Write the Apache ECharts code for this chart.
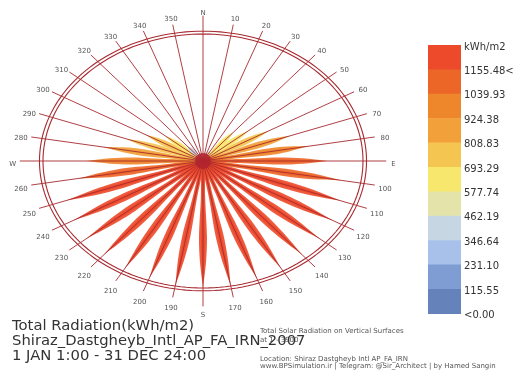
<!DOCTYPE html>
<html>
<head>
<meta charset="utf-8">
<script src="https://cdn.jsdelivr.net/npm/echarts@6/dist/echarts.min.js"></script>
<style>
  html, body { margin: 0; padding: 0; background: #ffffff; }
  #chart { width: 517px; height: 372px; }
</style>
</head>
<body>
<div id="chart"></div>
<script>
// Azimuth of each vertical surface (degrees from north, clockwise)
const directions = [0, 10, 20, 30, 40, 50, 60, 70, 80, 90, 100, 110, 120, 130, 140, 150, 160, 170,
                    180, 190, 200, 210, 220, 230, 240, 250, 260, 270, 280, 290, 300, 310, 320, 330, 340, 350];
// Annual total radiation on each vertical surface (kWh/m2)
const radiation = [320, 325, 340, 400, 600, 670, 770, 870, 960, 1060, 1150, 1185, 1210, 1225, 1235, 1245, 1255, 1265,
                   1271, 1265, 1255, 1245, 1235, 1225, 1210, 1180, 1070, 1010, 920, 800, 710, 610, 460, 360, 330, 320];
// Compass labels around the rose
const directionLabels = ['N', '10', '20', '30', '40', '50', '60', '70', '80', 'E', '100', '110', '120', '130', '140', '150', '160', '170',
                         'S', '190', '200', '210', '220', '230', '240', '250', '260', 'W', '280', '290', '300', '310', '320', '330', '340', '350'];
// Legend bins (top to bottom) and their tick labels
const legendColors = ['#ec4a2b', '#ec6628', '#ee862b', '#f2a13a', '#f5c552', '#f7e76d', '#e4e4aa', '#c6d6e2', '#a7c1ea', '#809dd3', '#6682ba'];
const binLowerEdges = [1155.48, 1039.93, 924.38, 808.83, 693.29, 577.74, 462.19, 346.64, 231.10, 115.55, -Infinity];
const legendTicks = ['kWh/m2', '1155.48<', '1039.93', '924.38', '808.83', '693.29', '577.74', '462.19', '346.64', '231.10', '115.55', '<0.00'];
// Title block
const titleLines = ['Total Radiation(kWh/m2)', 'Shiraz_Dastgheyb_Intl_AP_FA_IRN_2007', '1 JAN 1:00 - 31 DEC 24:00'];
const noteLines = ['Total Solar Radiation on Vertical Surfaces', 'at 1 - 3900', 'Location: Shiraz Dastgheyb Intl AP_FA_IRN',
                   'www.BPSimulation.ir | Telegram: @Sir_Architect | by Hamed Sangin'];
const noteTops = [328, 337, 356, 363];

// Petal length: value mapped between the lowest surface value and the maximum
const roseBase = 315;
const roseMax = 1271;

function binColor(v) {
  for (let i = 0; i < binLowerEdges.length; i++) {
    if (v >= binLowerEdges[i]) return legendColors[i];
  }
  return legendColors[legendColors.length - 1];
}

function polar(az, r) {
  const a = az * Math.PI / 180;
  return [r * Math.sin(a), r * Math.cos(a)];
}

const chart = echarts.init(document.getElementById('chart'), null, { renderer: 'canvas' });
const lineColor = '#a82a30';

// Spindle-shaped petal along one azimuth
function renderPetal(params, api) {
  const az = api.value(0);
  const v = api.value(1);
  const frac = Math.max(0, (v - roseBase) / (roseMax - roseBase));
  const c0 = api.coord([0, 0]);
  const tip = api.coord(polar(az, frac));
  const dx = tip[0] - c0[0], dy = tip[1] - c0[1];
  const L = Math.sqrt(dx * dx + dy * dy);
  if (L < 2) return null;
  const ux = dx / L, uy = dy / L;
  const nx = -uy, ny = ux;
  const w = 2.2 + 1.8 * frac;
  const profile = [[0, 0.35], [0.3, 0.55], [0.6, 1.0], [0.8, 0.75], [1, 0]];
  const side1 = profile.map(([t, s]) => [c0[0] + ux * L * t + nx * w * s, c0[1] + uy * L * t + ny * w * s]);
  const side2 = profile.slice().reverse().map(([t, s]) => [c0[0] + ux * L * t - nx * w * s, c0[1] + uy * L * t - ny * w * s]);
  const col = binColor(v);
  const innerProfile = [[0, 0.2], [0.3, 0.3], [0.6, 0.5], [0.8, 0.35], [0.95, 0]];
  const in1 = innerProfile.map(([t, s]) => [c0[0] + ux * L * t + nx * w * s, c0[1] + uy * L * t + ny * w * s]);
  const in2 = innerProfile.slice().reverse().map(([t, s]) => [c0[0] + ux * L * t - nx * w * s, c0[1] + uy * L * t - ny * w * s]);
  return {
    type: 'group',
    children: [
      { type: 'polygon', shape: { points: side1.concat(side2), smooth: 0.3 }, style: { fill: col, opacity: 0.9 } },
      { type: 'polygon', shape: { points: in1.concat(in2), smooth: 0.3 }, style: { fill: col, opacity: 0.9, stroke: null } }
    ]
  };
}

// Radial compass line and its label
function renderSpoke(params, api) {
  const az = api.value(0);
  const idx = params.dataIndex;
  const cardinal = az % 90 === 0;
  const c0 = api.coord([0, 0]);
  const end = api.coord(polar(az, cardinal ? 1.145 : 1.09));
  const lab = api.coord(polar(az, cardinal ? 1.19 : 1.155));
  return {
    type: 'group',
    children: [
      { type: 'line', shape: { x1: c0[0], y1: c0[1], x2: end[0], y2: end[1] },
        style: { stroke: lineColor, lineWidth: 1, opacity: 0.9 } },
      { type: 'text', x: lab[0], y: lab[1] + 3,
        style: { text: directionLabels[idx], fill: '#555', font: '7px "DejaVu Sans"', align: 'center', verticalAlign: 'middle' } }
    ]
  };
}

// Double ring and centre hub
function renderRings(params, api) {
  const rings = [1.0, 1.022];
  const children = rings.map(r => {
    const pts = [];
    for (let a = 0; a <= 360; a += 2) pts.push(api.coord(polar(a, r)));
    return { type: 'polyline', shape: { points: pts }, style: { stroke: lineColor, lineWidth: 1.1, fill: null } };
  });
  const c0 = api.coord([0, 0]);
  children.push({ type: 'circle', shape: { cx: c0[0], cy: c0[1], r: 8 }, style: { fill: '#b2232d', opacity: 0.85 } });
  return { type: 'group', children };
}

// Legend swatches and tick labels
const legendX = 428, legendTop = 45, legendH = 24.4, legendW = 33;
const graphics = [];
legendColors.forEach((c, i) => {
  graphics.push({ type: 'rect', left: legendX, top: legendTop + i * legendH,
    shape: { width: legendW, height: legendH + 0.5 }, style: { fill: c } });
});
legendTicks.forEach((t, i) => {
  graphics.push({ type: 'text', left: legendX + 36, top: legendTop - 3 + i * legendH,
    style: { text: t, fill: '#333', font: '10px "DejaVu Sans"' } });
});
noteLines.forEach((t, i) => {
  graphics.push({ type: 'text', left: 260, top: noteTops[i],
    style: { text: t, fill: '#555', font: '7px "DejaVu Sans"' } });
});
titleLines.forEach((t, i) => {
  graphics.push({ type: 'text', left: 12, top: 319 + i * 14.8,
    style: { text: t, fill: '#333', font: '14.8px "DejaVu Sans"' } });
});

const option = {
  animation: false,
  backgroundColor: '#ffffff',
  grid: { left: 3, top: 2.25, width: 400, height: 317.5 },
  xAxis: { type: 'value', min: -1.25, max: 1.25, show: false },
  yAxis: { type: 'value', min: -1.25, max: 1.25, show: false },
  series: [
    { type: 'custom', renderItem: renderPetal, data: directions.map((d, i) => [d, radiation[i]]), z: 2 },
    { type: 'custom', renderItem: renderSpoke, data: directions.map(d => [d]), z: 3 },
    { type: 'custom', renderItem: renderRings, data: [[0]], z: 4 }
  ],
  graphic: graphics
};
chart.setOption(option);
</script>
</body>
</html>
